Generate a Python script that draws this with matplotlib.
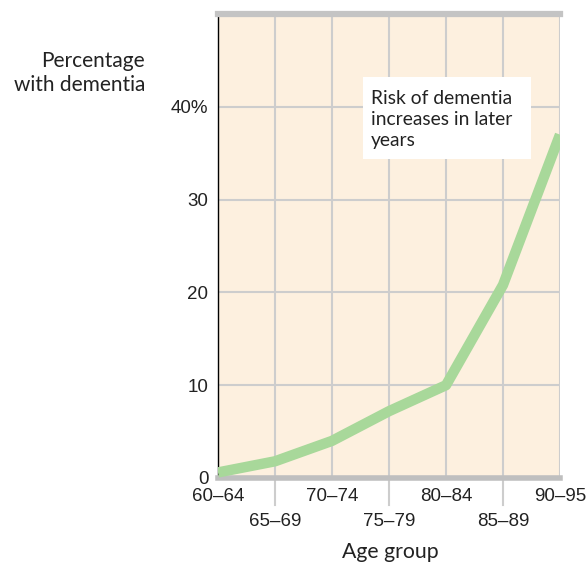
import matplotlib.pyplot as plt
from matplotlib.patches import Rectangle

# data
age_groups = ['60–64', '65–69', '70–74', '75–79', '80–84', '85–89', '90–95']
pct_dementia = [0.6, 1.8, 4.0, 7.2, 10.0, 20.8, 37.0]
y_ticks = [0, 10, 20, 30, 40]
y_labels = ['0', '10', '20', '30', '40%']
note_lines = ['Risk of dementia', 'increases in later', 'years']

num_font = 'Liberation Sans'
txt_font = 'Lato'
grid_col = '#cdcdcd'
W, H = 588, 565

fig = plt.figure(figsize=(5.88, 5.65), dpi=100)
ax = fig.add_axes([218/W, 1 - 478/H, (560 - 218)/W, (478 - 14)/H])
ax.set_facecolor('#fdf0df')

x = list(range(len(age_groups)))
ax.plot(x, pct_dementia, color='#a8d89a', lw=7.5, solid_capstyle='butt',
        solid_joinstyle='round', zorder=3)

ax.set_xlim(0, 6)
ax.set_ylim(0, 50)

# grid
ax.set_xticks(x)
ax.set_yticks(y_ticks)
ax.grid(True, color=grid_col, lw=1.5, zorder=0)
ax.set_axisbelow(True)
ax.tick_params(axis='both', length=0)
ax.set_xticklabels([])
ax.set_yticklabels(y_labels, fontfamily=num_font, fontsize=13.5, color='#222222')
ax.tick_params(axis='y', pad=7)

# spines
ax.spines['right'].set_visible(False)
ax.spines['left'].set_color('black')
ax.spines['left'].set_linewidth(1)
ax.spines['bottom'].set_color('#bfbfbf')
ax.spines['bottom'].set_linewidth(4)
ax.spines['top'].set_color('#c4c4c4')
ax.spines['top'].set_linewidth(4.5)

# staggered x labels
xt = ax.get_xaxis_transform()
for i, lab in enumerate(age_groups):
    if i % 2 == 0:
        ax.text(i, -0.039, lab, transform=xt, ha='center', va='center',
                fontfamily=num_font, fontsize=13.5, color='#222222')
    else:
        ax.text(i, -0.093, lab, transform=xt, ha='center', va='center',
                fontfamily=num_font, fontsize=13.5, color='#222222')
        ax.plot([i, i], [-0.004, -0.058], transform=xt, color=grid_col,
                lw=1.5, clip_on=False)

# annotation box (pixel positions of the reference)
ax.add_patch(Rectangle((363/W, 1 - 159/H), (531 - 363)/W, (159 - 77)/H,
                       transform=fig.transFigure, facecolor='white',
                       edgecolor='none', zorder=4))
for k, line in enumerate(note_lines):
    fig.text(371/W, 1 - (104 + 21*k)/H, line, ha='left', va='baseline',
             fontfamily=txt_font, fontsize=13.9, color='#222222', zorder=5)

for k, line in enumerate(['Percentage', 'with dementia']):
    fig.text(145/W, 1 - (67 + 24*k)/H, line, ha='right', va='baseline',
             fontfamily=txt_font, fontsize=15, color='#222222')
fig.text(390/W, 1 - 558/H, 'Age group', ha='center', va='baseline',
         fontfamily=txt_font, fontsize=15.3, color='#222222')

fig.savefig('out.png', dpi=100)
